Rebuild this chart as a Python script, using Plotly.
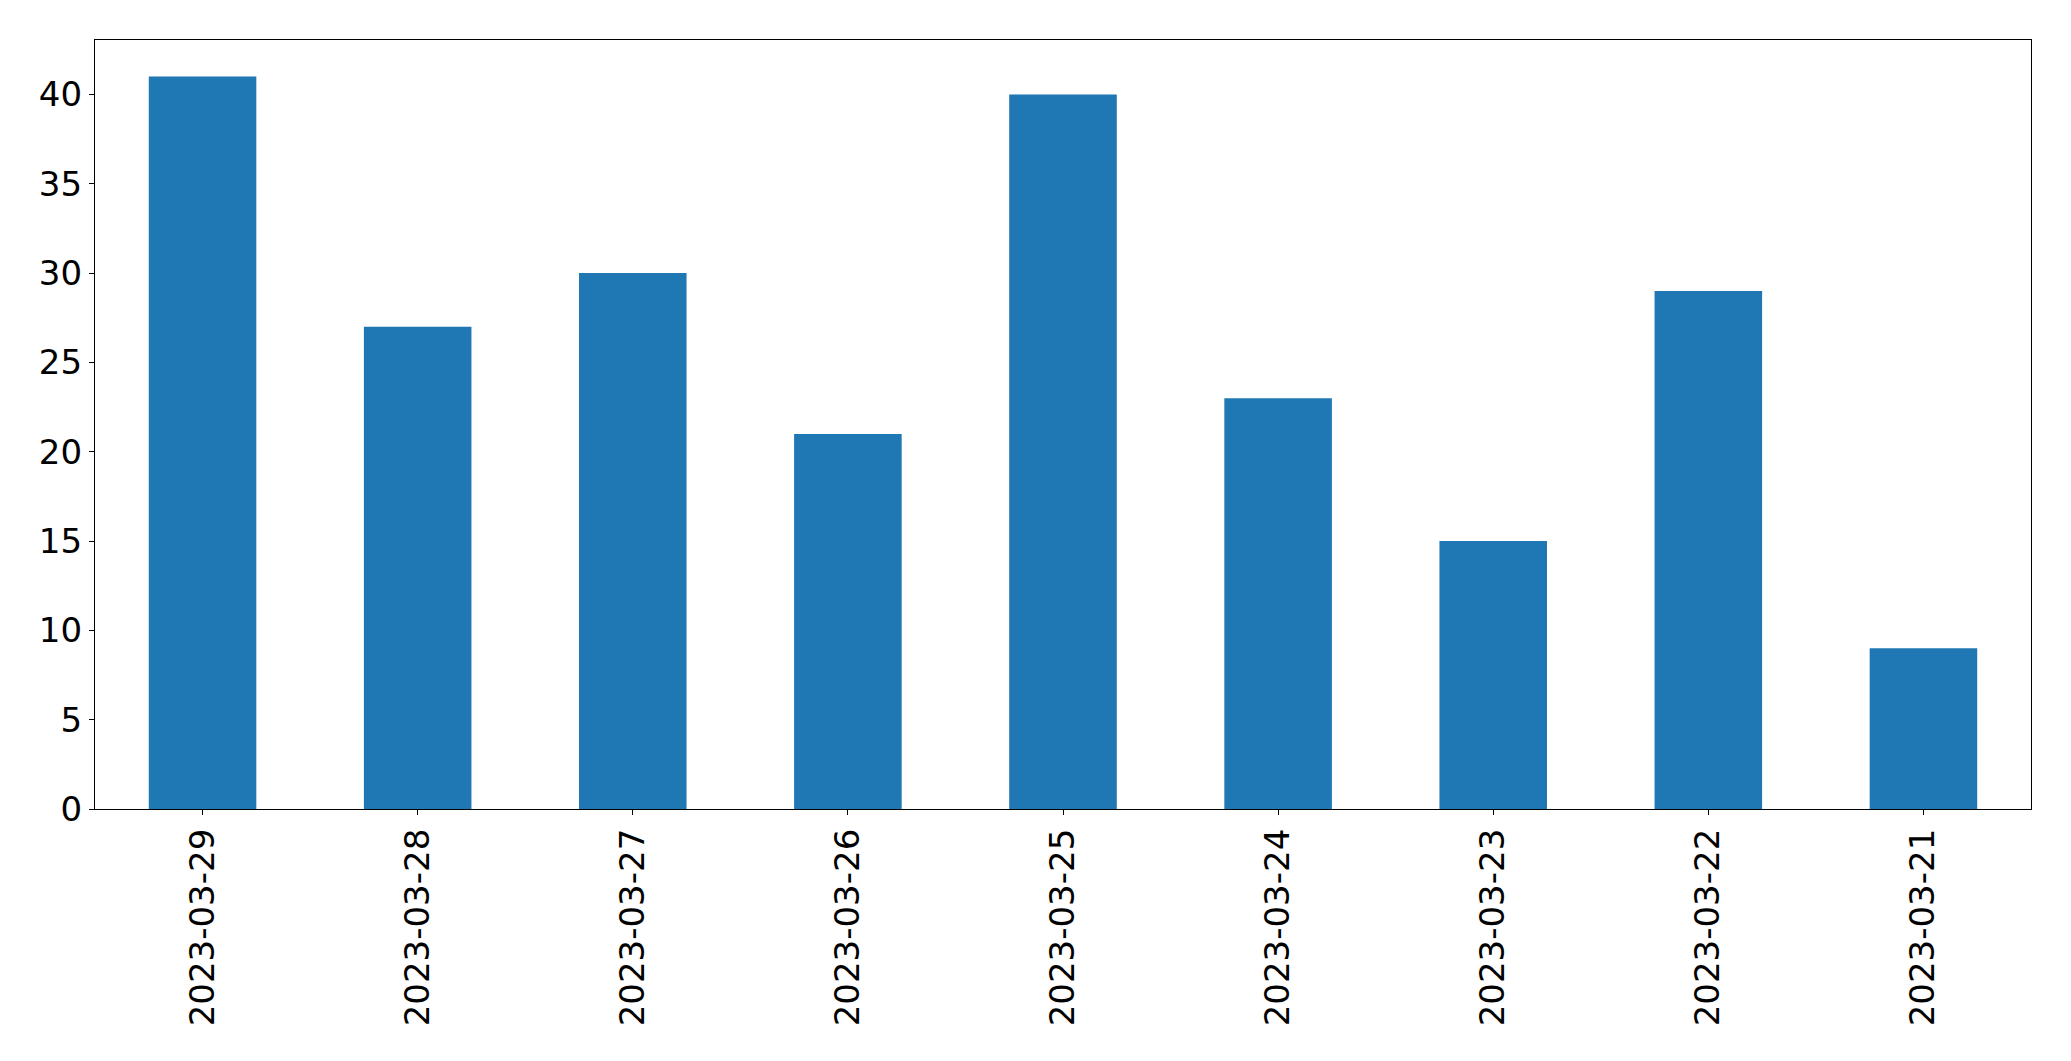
import plotly.graph_objects as go

dates = ["2023-03-29", "2023-03-28", "2023-03-27", "2023-03-26", "2023-03-25",
         "2023-03-24", "2023-03-23", "2023-03-22", "2023-03-21"]
counts = [41, 27, 30, 21, 40, 23, 15, 29, 9]
y_ticks = [0, 5, 10, 15, 20, 25, 30, 35, 40]

fig = go.Figure(go.Bar(x=dates, y=counts, width=0.5, marker_color="#1f77b4",
                       marker_line_width=0))

# page body has an 8px default margin, so compensate
fig.update_layout(
    width=2063, height=1053,
    margin=dict(l=86.5, r=39.5, t=31.5, b=252, autoexpand=False),
    paper_bgcolor="white", plot_bgcolor="white",
    font=dict(family="DejaVu Sans", size=34, color="black"),
    showlegend=False,
)
fig.update_xaxes(
    type="category", range=[-0.5, len(dates) - 0.5],
    showline=True, mirror=True, linecolor="black", linewidth=1.3,
    ticks="outside", ticklen=5, tickwidth=1.3, tickcolor="black",
    tickangle=-90, showgrid=False, zeroline=False,
)
fig.update_yaxes(
    range=[0, 43.05], tickvals=y_ticks,
    showline=True, mirror=True, linecolor="black", linewidth=1.3,
    ticks="outside", ticklen=5, tickwidth=1.3, tickcolor="black",
    showgrid=False, zeroline=False,
)

fig.write_html("out.html")
